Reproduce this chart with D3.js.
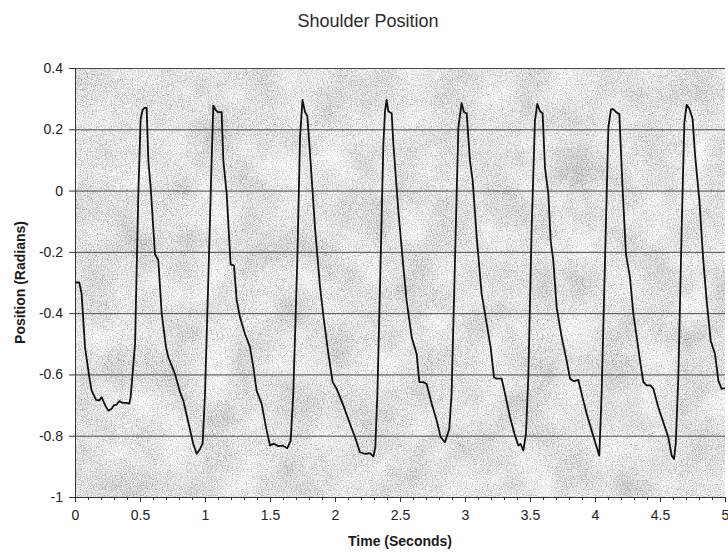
<!DOCTYPE html>
<html lang="en">
<head>
<meta charset="UTF-8">
<title>Shoulder Position</title>
<script src="https://d3js.org/d3.v7.min.js"></script>
<style>
  body { margin: 0; background: #fff; }
  svg { display: block; font-family: "Liberation Sans", Arial, sans-serif; }
  .tick text { font-size: 14px; fill: #222; }
  .axis path, .axis line { stroke: #333; }
  .grid line { stroke: #4a4a4a; stroke-width: 1; }
  .grid path { display: none; }
  .title { font-size: 18px; fill: #2a2a2a; }
  .axis-label { font-size: 14px; font-weight: bold; fill: #1a1a1a; }
</style>
</head>
<body>
<div id="chart"></div>
<script>
// Shoulder angle sampled off the trace (seconds, radians)
const timeSec = [
  0, 0.033, 0.051, 0.077, 0.09, 0.11, 0.128, 0.162, 0.187, 0.205, 0.231, 0.256, 0.282, 0.30, 0.32, 0.341, 0.367, 0.392, 0.418, 0.428,
  0.462, 0.487, 0.505, 0.52, 0.535, 0.551, 0.564, 0.582, 0.615, 0.641, 0.667, 0.70, 0.718, 0.769, 0.808, 0.833, 0.872, 0.91, 0.936, 0.962, 0.982,
  1.0, 1.026, 1.051, 1.064, 1.082, 1.10, 1.128, 1.141, 1.167, 1.197, 1.223, 1.244, 1.269, 1.308, 1.346, 1.372, 1.397, 1.436, 1.469,
  1.50, 1.531, 1.564, 1.597, 1.633, 1.659, 1.679, 1.71, 1.731, 1.75, 1.769, 1.787, 1.808, 1.846, 1.885, 1.915, 1.949, 1.982,
  2.013, 2.064, 2.115, 2.154, 2.192, 2.231, 2.269, 2.295, 2.31, 2.326, 2.351, 2.372, 2.385, 2.397, 2.41, 2.436, 2.449, 2.487,
  2.526, 2.551, 2.59, 2.628, 2.649, 2.679, 2.705, 2.744, 2.782, 2.813, 2.846, 2.879, 2.897, 2.923, 2.949, 2.974, 2.992,
  3.013, 3.038, 3.059, 3.09, 3.128, 3.167, 3.197, 3.223, 3.244, 3.282, 3.308, 3.346, 3.385, 3.41, 3.428, 3.449, 3.469, 3.487,
  3.513, 3.538, 3.556, 3.577, 3.597, 3.615, 3.641, 3.659, 3.679, 3.705, 3.744, 3.782, 3.808, 3.838, 3.872, 3.897, 3.936, 3.974,
  4.013, 4.033, 4.051, 4.077, 4.103, 4.123, 4.141, 4.162, 4.187, 4.213, 4.238, 4.269, 4.295, 4.321, 4.346, 4.372, 4.397, 4.428, 4.449, 4.487,
  4.526, 4.564, 4.59, 4.608, 4.621, 4.641, 4.667, 4.687, 4.705, 4.726, 4.751, 4.769, 4.803, 4.833, 4.859, 4.89, 4.923, 4.949, 4.974, 5.0
];
const positionRad = [
  -0.30, -0.30, -0.337, -0.511, -0.549, -0.609, -0.653, -0.683, -0.685, -0.674, -0.70, -0.718, -0.712, -0.70, -0.699, -0.687, -0.693, -0.693, -0.695, -0.674,
  -0.50, -0.011, 0.234, 0.263, 0.270, 0.270, 0.098, 0.011, -0.207, -0.228, -0.402, -0.511, -0.544, -0.598, -0.658, -0.685, -0.757, -0.827, -0.859, -0.843, -0.825,
  -0.663, -0.283, 0.098, 0.277, 0.263, 0.256, 0.256, 0.098, -0.011, -0.241, -0.245, -0.359, -0.413, -0.468, -0.511, -0.576, -0.653, -0.696, -0.772,
  -0.832, -0.826, -0.834, -0.832, -0.841, -0.816, -0.663, -0.228, 0.174, 0.296, 0.257, 0.243, 0.12, -0.12, -0.315, -0.424, -0.533, -0.625,
  -0.647, -0.701, -0.761, -0.805, -0.854, -0.859, -0.857, -0.868, -0.838, -0.663, -0.228, 0.152, 0.261, 0.296, 0.259, 0.252, 0.152, -0.065,
  -0.25, -0.359, -0.479, -0.533, -0.625, -0.625, -0.631, -0.696, -0.75, -0.805, -0.821, -0.778, -0.663, -0.228, 0.207, 0.285, 0.256,
  0.252, 0.098, 0.033, -0.152, -0.337, -0.435, -0.511, -0.609, -0.614, -0.614, -0.663, -0.739, -0.80, -0.832, -0.827, -0.848, -0.794, -0.609,
  -0.12, 0.228, 0.283, 0.259, 0.252, 0.076, -0.011, -0.163, -0.228, -0.381, -0.479, -0.555, -0.614, -0.622, -0.618, -0.663, -0.728, -0.783,
  -0.838, -0.865, -0.663, -0.228, 0.207, 0.265, 0.266, 0.256, 0.25, 0.0, -0.207, -0.283, -0.402, -0.479, -0.555, -0.625, -0.636, -0.636, -0.647, -0.707,
  -0.757, -0.805, -0.865, -0.876, -0.827, -0.609, -0.12, 0.22, 0.28, 0.267, 0.234, 0.12, -0.033, -0.228, -0.359, -0.49, -0.533, -0.62, -0.647, -0.645
];
const xMajorTicks = [0, 0.5, 1, 1.5, 2, 2.5, 3, 3.5, 4, 4.5, 5];
const yTicks = [-1, -0.8, -0.6, -0.4, -0.2, 0, 0.2, 0.4];

const width = 728, height = 552;
const margin = { top: 68, right: 3, bottom: 55, left: 75 };
const innerW = width - margin.left - margin.right;
const innerH = height - margin.top - margin.bottom;

const svg = d3.select('#chart').append('svg')
  .attr('width', width)
  .attr('height', height);

// speckled grey backdrop, like the scanned original
const defs = svg.append('defs');
const f = defs.append('filter').attr('id', 'paper')
  .attr('x', 0).attr('y', 0).attr('width', 1).attr('height', 1);
f.append('feTurbulence').attr('type', 'fractalNoise').attr('baseFrequency', 0.8)
  .attr('numOctaves', 2).attr('seed', 4).attr('result', 'fine');
f.append('feTurbulence').attr('type', 'fractalNoise').attr('baseFrequency', 0.025)
  .attr('numOctaves', 3).attr('seed', 9).attr('result', 'coarse');
f.append('feComposite').attr('in', 'fine').attr('in2', 'coarse')
  .attr('operator', 'arithmetic').attr('k1', 0).attr('k2', 0.75).attr('k3', 0.25).attr('k4', 0)
  .attr('result', 'mix');
f.append('feColorMatrix').attr('in', 'mix').attr('type', 'matrix')
  .attr('values', '1.5 0 0 0 0.02  1.5 0 0 0 0.02  1.5 0 0 0 0.02  0 0 0 0 1');

const g = svg.append('g').attr('transform', `translate(${margin.left},${margin.top})`);

const x = d3.scaleLinear().domain([0, 5]).range([0, innerW]);
const y = d3.scaleLinear().domain([-1, 0.4]).range([innerH, 0]);

g.append('rect')
  .attr('width', innerW).attr('height', innerH)
  .attr('fill', '#c6c6c6')
  .attr('filter', 'url(#paper)');

// horizontal gridlines
g.append('g').attr('class', 'grid')
  .call(d3.axisLeft(y).tickValues(yTicks.filter(v => v > -1)).tickSize(-innerW).tickFormat(''))
  .selectAll('line')
  .attr('stroke', d => d >= 0.4 ? '#8a8a8a' : '#4a4a4a');

const fmt = d => d === 0 ? '0' : String(+d.toFixed(1));

// minor ticks every 0.1 on the time axis
g.append('g').attr('class', 'axis')
  .attr('transform', `translate(0,${innerH})`)
  .call(d3.axisBottom(x).ticks(50).tickSize(3).tickFormat(''))
  .select('.domain').remove();

g.append('g').attr('class', 'axis')
  .attr('transform', `translate(0,${innerH})`)
  .call(d3.axisBottom(x).tickValues(xMajorTicks).tickSize(5).tickPadding(8).tickFormat(fmt));

g.append('g').attr('class', 'axis')
  .call(d3.axisLeft(y).tickValues(yTicks).tickSize(6).tickPadding(6).tickFormat(fmt));

const pts = timeSec.map((t, i) => [t, positionRad[i]]);
g.append('path')
  .datum(pts)
  .attr('fill', 'none')
  .attr('stroke', '#111')
  .attr('stroke-width', 1.8)
  .attr('stroke-linejoin', 'round')
  .attr('d', d3.line().x(d => x(d[0])).y(d => y(d[1])));

svg.append('text').attr('class', 'title')
  .attr('x', 368).attr('y', 27)
  .attr('text-anchor', 'middle')
  .text('Shoulder Position');

svg.append('text').attr('class', 'axis-label')
  .attr('x', margin.left + innerW / 2).attr('y', 546)
  .attr('text-anchor', 'middle')
  .text('Time (Seconds)');

svg.append('text').attr('class', 'axis-label')
  .attr('transform', `translate(25,${margin.top + innerH / 2}) rotate(-90)`)
  .attr('text-anchor', 'middle')
  .text('Position (Radians)');
</script>
</body>
</html>
